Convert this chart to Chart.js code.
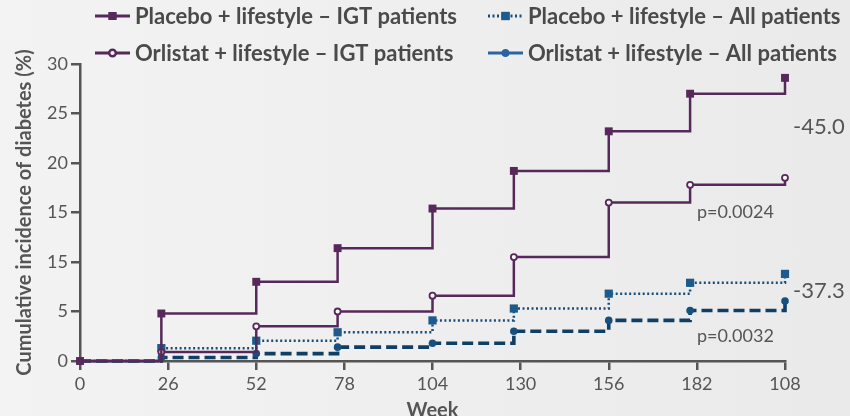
<!DOCTYPE html>
<html>
<head>
<meta charset="utf-8">
<script src="https://cdn.jsdelivr.net/npm/chart.js@4/dist/chart.umd.min.js"></script>
<style>
  html, body { margin: 0; padding: 0; }
  body { width: 850px; height: 416px; background: linear-gradient(to right, #f3f3f3, #eaeaea); }
  canvas { display: block; }
</style>
</head>
<body>
<canvas id="chart" width="850" height="416"></canvas>
<script>
// Data (weeks, cumulative incidence %)
const weeks = [0, 24, 52, 76, 104, 128, 156, 180, 208];
const placeboIgt = [0, 4.8, 8.0, 11.4, 15.4, 19.2, 23.2, 27.0, 28.6];
const orlistatIgt = [0, 0.9, 3.5, 5.0, 6.6, 10.5, 16.0, 17.8, 18.5];
const placeboAll = [0, 1.3, 2.05, 2.9, 4.1, 5.3, 6.8, 7.9, 8.8];
const orlistatAll = [0, 0.35, 0.75, 1.4, 1.8, 3.0, 4.1, 5.1, 6.05];

const seriesLabels = [
    'Placebo + lifestyle – IGT patients',
    'Placebo + lifestyle – All patients',
    'Orlistat + lifestyle – IGT patients',
    'Orlistat + lifestyle – All patients'
];
// tick labels as printed on the reference
const xTickLabels = ['0', '26', '52', '78', '104', '130', '156', '182', '108'];
const yTickLabels = ['0', '5', '15', '15', '20', '25', '30'];
const reductionLabels = ['-45.0', '-37.3'];
const pValueLabels = ['p=0.0024', 'p=0.0032'];

const purple = '#57295b';
const blue = '#1c5b8c';
const navy = '#103f66';
const axisGray = '#555555';
const font = 'Lato';

function toPoints(values) {
    return values.map((v, i) => ({ x: weeks[i], y: v }));
}

// hide the marker at the origin except for the first series
function hideOrigin(r) {
    return ctx => (ctx.dataIndex === 0 ? 0 : r);
}

const datasets = [
    {
        label: seriesLabels[0],
        data: toPoints(placeboIgt),
        borderColor: purple,
        borderWidth: 2.5,
        pointStyle: 'rect',
        pointRadius: 5.6,
        pointBackgroundColor: purple,
        pointBorderWidth: 0,
        order: 0
    },
    {
        label: seriesLabels[1],
        data: toPoints(placeboAll),
        borderColor: '#1a4c7a',
        borderWidth: 2.5,
        borderDash: [2, 2.5],
        pointStyle: 'rect',
        pointRadius: hideOrigin(5.8),
        pointBackgroundColor: blue,
        pointBorderWidth: 0,
        order: 2
    },
    {
        label: seriesLabels[2],
        data: toPoints(orlistatIgt),
        borderColor: purple,
        borderWidth: 2.5,
        pointStyle: 'circle',
        pointRadius: hideOrigin(3),
        pointBackgroundColor: '#f7f7f7',
        pointBorderColor: purple,
        pointBorderWidth: 1.8,
        order: 1
    },
    {
        label: seriesLabels[3],
        data: toPoints(orlistatAll),
        borderColor: navy,
        borderWidth: 3.6,
        borderDash: [11, 5],
        pointStyle: 'circle',
        pointRadius: hideOrigin(3.8),
        pointBackgroundColor: '#17507f',
        pointBorderWidth: 0,
        legendDash: [],
        legendColor: '#2766a0',
        order: 3
    }
];

// Legend laid out as a 2x2 grid, like the reference
const gridLegend = {
    id: 'gridLegend',
    afterDraw(chart) {
        const ctx = chart.ctx;
        const cols = [95, 488];
        const rows = [16, 53];
        const cells = [[0, 0], [1, 0], [0, 1], [1, 1]];
        ctx.save();
        chart.data.datasets.forEach((ds, i) => {
            const x = cols[cells[i][0]];
            const y = rows[cells[i][1]];
            const color = ds.legendColor || ds.borderColor;
            ctx.strokeStyle = color;
            ctx.lineWidth = 3;
            ctx.setLineDash(ds.legendDash || ds.borderDash || []);
            ctx.beginPath();
            ctx.moveTo(x, y);
            ctx.lineTo(x + 35, y);
            ctx.stroke();
            ctx.setLineDash([]);
            Chart.helpers.drawPoint(ctx, {
                pointStyle: ds.pointStyle,
                radius: typeof ds.pointRadius === 'function' ? ds.pointRadius({ dataIndex: 1 }) : ds.pointRadius,
                borderWidth: ds.pointBorderWidth
            }, x + 17.5, y);
            ctx.fillStyle = ds.legendColor || ds.pointBackgroundColor;
            ctx.strokeStyle = ds.pointBorderColor || color;
            ctx.lineWidth = ds.pointBorderWidth;
            ctx.fill();
            if (ds.pointBorderWidth) ctx.stroke();
            ctx.fillStyle = '#4a4a4a';
            ctx.font = 'bold 22px ' + font;
            ctx.textBaseline = 'middle';
            ctx.textAlign = 'left';
            ctx.fillText(ds.label, x + 40, y + 1);
        });
        ctx.restore();
    }
};

// Reduction percentages and p-values on the right
const annotations = {
    id: 'annotations',
    afterDraw(chart) {
        const ctx = chart.ctx;
        const xs = chart.scales.x;
        const ys = chart.scales.y;
        ctx.save();
        ctx.fillStyle = '#555555';
        ctx.textBaseline = 'middle';
        ctx.textAlign = 'left';
        ctx.font = '22px ' + font;
        ctx.fillText(reductionLabels[0], chart.chartArea.right + 8, ys.getPixelForValue(23.6));
        ctx.fillText(reductionLabels[1], chart.chartArea.right + 8, ys.getPixelForValue(7.1));
        ctx.font = '18px ' + font;
        ctx.fillText(pValueLabels[0], xs.getPixelForValue(182), ys.getPixelForValue(15.0));
        ctx.fillText(pValueLabels[1], xs.getPixelForValue(182), ys.getPixelForValue(2.5));
        ctx.restore();
    }
};

const tickFont = { family: font, size: 18 };

new Chart(document.getElementById('chart').getContext('2d'), {
    type: 'line',
    data: { datasets: datasets },
    options: {
        responsive: false,
        animation: false,
        devicePixelRatio: 1,
        clip: false,
        layout: { padding: { top: 64, right: 65, left: 0, bottom: 0 } },
        elements: { line: { stepped: 'before', tension: 0 } },
        plugins: {
            legend: { display: false },
            tooltip: { enabled: false }
        },
        scales: {
            x: {
                type: 'linear',
                min: 0,
                max: 208,
                afterFit: s => { s.height = 55; },
                afterBuildTicks: s => { s.ticks = xTickLabels.map((_, i) => ({ value: i * 26 })); },
                ticks: {
                    autoSkip: false,
                    maxRotation: 0,
                    padding: 3,
                    color: axisGray,
                    font: tickFont,
                    callback: (v, i) => xTickLabels[i]
                },
                grid: { drawOnChartArea: false, drawTicks: true, tickLength: 9, tickColor: axisGray, lineWidth: 2.5 },
                border: { color: axisGray, width: 2.5 },
                title: {
                    display: true,
                    text: 'Week',
                    color: axisGray,
                    font: { family: font, size: 20, weight: 'bold', lineHeight: 0.8 },
                    padding: { top: 0, bottom: -3 }
                }
            },
            y: {
                min: 0,
                max: 30,
                afterFit: s => { s.width = 80; },
                ticks: {
                    stepSize: 5,
                    padding: 3,
                    color: axisGray,
                    font: tickFont,
                    callback: (v, i) => yTickLabels[i]
                },
                grid: { drawOnChartArea: false, drawTicks: true, tickLength: 9, tickColor: axisGray, lineWidth: 2.5 },
                border: { color: axisGray, width: 2.5 },
                title: {
                    display: true,
                    text: 'Cumulative incidence of diabetes (%)',
                    color: axisGray,
                    font: { family: font, size: 20, weight: 'bold' },
                    padding: { top: 13, bottom: 0 }
                }
            }
        }
    },
    plugins: [gridLegend, annotations]
});
</script>
</body>
</html>
